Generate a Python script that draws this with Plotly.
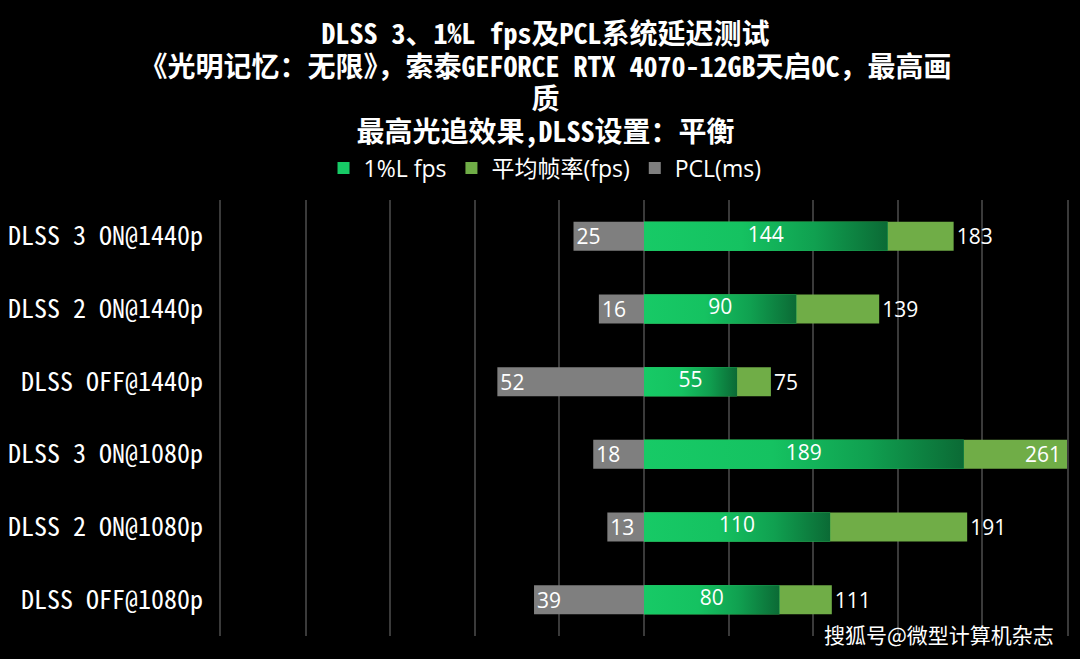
import plotly.graph_objects as go

CATEGORIES = [
    "DLSS 3 ON@1440p",
    "DLSS 2 ON@1440p",
    "DLSS OFF@1440p",
    "DLSS 3 ON@1080p",
    "DLSS 2 ON@1080p",
    "DLSS OFF@1080p",
]
LOW_1PCT_FPS = [144, 90, 55, 189, 110, 80]
AVG_FPS = [183, 139, 75, 261, 191, 111]
PCL_MS = [25, 16, 52, 18, 13, 39]

TITLE_LINES = [
    "DLSS 3、1%L fps及PCL系统延迟测试",
    "《光明记忆：无限》，索泰GEFORCE RTX 4070-12GB天启OC，最高画",
    "质",
    "最高光追效果,DLSS设置：平衡",
]

MONO = "Noto Sans Mono CJK SC, DejaVu Sans Mono, Noto Sans CJK SC, monospace"
SANS = "Open Sans, Noto Sans CJK SC, sans-serif"
GREEN = "#17CA66"
GREEN_SCALE = [
    [0.0, "#17CA66"],
    [0.4, "#15C261"],
    [0.7, "#10A050"],
    [1.0, "#0B6A35"],
]
GRID = "#3A3A3A"
FPS_MAX = 250
PCL_MAX = 150
HALF = 0.2

rows = list(range(len(CATEGORIES)))
label_font = dict(family=SANS, size=21, color="white")

# glyphs at 28px, line spacing from the 25px base font (tighter than plotly's default)
title_text = "<br>".join(
    f'<span style="font-size:28px">{line}</span>' for line in TITLE_LINES
)

fig = go.Figure()

# average fps, behind the 1%L bars; labels outside unless the bar runs off the axis
fig.add_trace(
    go.Bar(
        y=rows,
        x=AVG_FPS,
        orientation="h",
        width=2 * HALF,
        name="平均帧率(fps)",
        marker=dict(color="#70AD47", line=dict(width=0)),
        text=[str(v) if v <= FPS_MAX else "" for v in AVG_FPS],
        textposition="outside",
        textfont=label_font,
        textangle=0,
        legendrank=2,
    )
)
for i, value in enumerate(AVG_FPS):
    if value > FPS_MAX:
        fig.add_annotation(
            x=FPS_MAX,
            y=i,
            text=str(value),
            xanchor="right",
            xshift=-4,
            showarrow=False,
            font=label_font,
        )

fig.add_trace(
    go.Bar(
        y=rows,
        x=LOW_1PCT_FPS,
        orientation="h",
        width=2 * HALF,
        name="1%L fps",
        marker=dict(color=GREEN, line=dict(width=0)),
        legendrank=1,
    )
)

fig.add_trace(
    go.Bar(
        y=rows,
        x=[-v for v in PCL_MS],
        orientation="h",
        width=2 * HALF,
        name="PCL(ms)",
        xaxis="x2",
        marker=dict(color="#7F7F7F", line=dict(width=0)),
        text=PCL_MS,
        textposition="inside",
        insidetextanchor="end",
        textangle=0,
        constraintext="none",
        textfont=label_font,
        legendrank=3,
    )
)

# gradient overlay for the 1%L bars
for i, value in enumerate(LOW_1PCT_FPS):
    fig.add_trace(
        go.Scatter(
            x=[0, value, value, 0, 0],
            y=[i - HALF, i - HALF, i + HALF, i + HALF, i - HALF],
            mode="none",
            fill="toself",
            fillgradient=dict(type="horizontal", colorscale=GREEN_SCALE),
            showlegend=False,
            hoverinfo="skip",
        )
    )

fig.add_trace(
    go.Scatter(
        x=[v / 2 for v in LOW_1PCT_FPS],
        y=rows,
        mode="text",
        text=[str(v) for v in LOW_1PCT_FPS],
        textfont=label_font,
        showlegend=False,
        hoverinfo="skip",
    )
)

fig.add_annotation(
    text="搜狐号@微型计算机杂志",
    xref="paper",
    yref="paper",
    x=0.987,
    y=0.005,
    xanchor="right",
    yanchor="middle",
    showarrow=False,
    font=dict(family="Noto Sans CJK SC, sans-serif", size=21, color="white"),
)

fig.update_layout(
    width=1080,
    height=659,
    paper_bgcolor="black",
    plot_bgcolor="black",
    margin=dict(l=221, r=13, t=200, b=23, autoexpand=False),
    barmode="overlay",
    title=dict(
        text=title_text,
        x=0.505,
        xref="container",
        xanchor="center",
        y=0.933,
        yref="container",
        yanchor="top",
        font=dict(family=MONO, size=25, color="white", weight="bold"),
    ),
    legend=dict(
        orientation="h",
        x=0.383,
        xanchor="center",
        y=1.073,
        yanchor="middle",
        font=dict(family=SANS, size=23, color="white"),
        itemwidth=30,
        traceorder="normal",
        bgcolor="rgba(0,0,0,0)",
    ),
    xaxis=dict(
        range=[-FPS_MAX, FPS_MAX],
        dtick=50,
        showticklabels=False,
        showgrid=True,
        gridcolor=GRID,
        gridwidth=1.5,
        zeroline=False,
        fixedrange=True,
    ),
    xaxis2=dict(
        range=[-PCL_MAX, PCL_MAX],
        overlaying="x",
        visible=False,
        fixedrange=True,
    ),
    yaxis=dict(
        range=[5.5, -0.5],
        tickvals=rows,
        ticktext=CATEGORIES,
        tickfont=dict(family=MONO, size=26, color="white"),
        ticklabelstandoff=11,
        showgrid=False,
        zeroline=False,
        showline=True,
        mirror=True,
        linecolor=GRID,
        linewidth=1.5,
        fixedrange=True,
    ),
    showlegend=True,
)

fig.write_html(
    "out.html",
    config={"displayModeBar": False},
    post_script="document.body.style.margin='0';",
)
